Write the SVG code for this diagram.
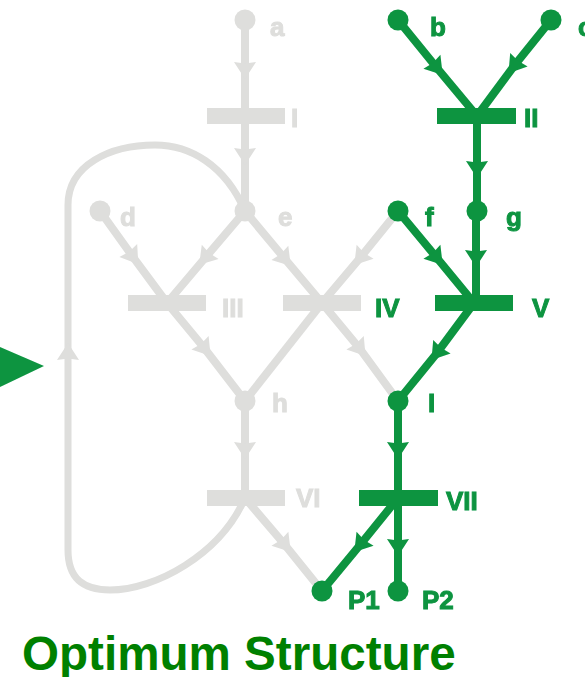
<svg xmlns="http://www.w3.org/2000/svg" width="585" height="677" viewBox="0 0 585 677">
<style>
.g{fill:none;stroke:#dededc;stroke-width:8}
.v{fill:none;stroke:#0a9440;stroke-width:8}
.gf{fill:#dededc}
.vf{fill:#0a9440}
text{font-family:"Liberation Sans",Arial,sans-serif;font-weight:700;font-size:26px}
.tg{fill:#dededc;stroke:#dededc;stroke-width:1}
.tv{fill:#0a9440;stroke:#0a9440;stroke-width:1}
</style>
<defs>
<filter id="soft" x="0" y="0" width="100%" height="100%" filterUnits="userSpaceOnUse"><feGaussianBlur stdDeviation="0.6"/></filter>
<marker id="ag" markerUnits="userSpaceOnUse" markerWidth="24" markerHeight="24" refX="12" refY="12" orient="auto" viewBox="0 0 24 24"><path d="M21 12L4 1L5.5 12L4 23Z" fill="#dededc"/></marker>
<marker id="av" markerUnits="userSpaceOnUse" markerWidth="24" markerHeight="24" refX="12" refY="12" orient="auto" viewBox="0 0 24 24"><path d="M21 12L4 1L5.5 12L4 23Z" fill="#0a9440"/></marker>
</defs>
<rect width="585" height="677" fill="#fff"/>
<g filter="url(#soft)">
<g id="connectors">
<g marker-mid="url(#ag)">
<polyline class="g" points="245,20 245,70 245,116"/>
<polyline class="g" points="245,116 245,156 245,211"/>
<polyline class="g" points="100,211 133,257 167,303"/>
<polyline class="g" points="245,211 205,258 167,303"/>
<polyline class="g" points="245,211 285,259 322,303"/>
<polyline class="g" points="398,211 360,258 322,303"/>
<polyline class="g" points="167,303 205,349 245,401"/>
<polyline class="g" points="322,303 360,349 398,401"/>
<polyline class="g" points="245,401 245,450 245,498"/>
<polyline class="g" points="245,498 285,545 322,591"/>
</g>
<polyline class="g" points="322,303 245,401"/>
<path class="g" style="stroke-width:7" d="M245,211C225,165 190,145 155,145C110,145 68,165 68,205V350"/>
<path class="g" style="stroke-width:7" d="M245,498C220,555 155,590 110,590C85,590 68,580 68,550V352" marker-end="url(#ag)"/>
<g marker-mid="url(#av)">
<polyline class="v" points="398,20 437,68 477,116"/>
<polyline class="v" points="551,20 514,66 477,116"/>
<polyline class="v" points="477,116 477,169 477,211"/>
<polyline class="v" points="476,211 476,258 476,303"/>
<polyline class="v" points="398,211 437,258 474,303"/>
<polyline class="v" points="474,303 437,353 398,401"/>
<polyline class="v" points="398,401 398,450 398,498"/>
<polyline class="v" points="398,498 360,545 322,591"/>
<polyline class="v" points="398,498 398,547 398,591"/>
</g>
</g>
<g id="node-a"><circle class="gf" cx="245" cy="20" r="10.5"/><text class="tg" x="270" y="36">a</text></g>
<g id="node-I"><rect class="gf" x="207" y="108" width="78" height="16"/><text class="tg" x="291" y="127">I</text></g>
<g id="node-d"><circle class="gf" cx="100" cy="211" r="10.5"/><text class="tg" x="120" y="226">d</text></g>
<g id="node-e"><circle class="gf" cx="245" cy="211" r="10.5"/><text class="tg" x="278" y="226">e</text></g>
<g id="node-III"><rect class="gf" x="128" y="295" width="78" height="16"/><text class="tg" x="222" y="317">III</text></g>
<g id="node-IV"><rect class="gf" x="283" y="295" width="78" height="16"/><text class="tv" x="375" y="317">IV</text></g>
<g id="node-h"><circle class="gf" cx="245" cy="401" r="10.5"/><text class="tg" x="272" y="412">h</text></g>
<g id="node-VI"><rect class="gf" x="207" y="490" width="78" height="16"/><text class="tg" x="296" y="507">VI</text></g>
<g id="node-b"><circle class="vf" cx="398" cy="20" r="10.5"/><text class="tv" x="430" y="36">b</text></g>
<g id="node-c"><circle class="vf" cx="551" cy="20" r="10.5"/><text class="tv" x="578" y="36">c</text></g>
<g id="node-II"><rect class="vf" x="437" y="108" width="79" height="16"/><text class="tv" x="524" y="127">II</text></g>
<g id="node-f"><circle class="vf" cx="398" cy="211" r="10.5"/><text class="tv" x="425" y="226">f</text></g>
<g id="node-g"><circle class="vf" cx="477" cy="211" r="10.5"/><text class="tv" x="506" y="226">g</text></g>
<g id="node-V"><rect class="vf" x="435" y="295" width="78" height="16"/><text class="tv" x="532" y="317">V</text></g>
<g id="node-l"><circle class="vf" cx="398" cy="401" r="10.5"/><text class="tv" x="428" y="412">I</text></g>
<g id="node-VII"><rect class="vf" x="359" y="490" width="79" height="16"/><text class="tv" x="446" y="510">VII</text></g>
<g id="node-P1"><circle class="vf" cx="322" cy="591" r="10.5"/><text class="tv" x="348" y="609">P1</text></g>
<g id="node-P2"><circle class="vf" cx="398" cy="591" r="10.5"/><text class="tv" x="422" y="609">P2</text></g>
<polygon id="pointer" class="vf" points="0,347 44,366 0,387"/>
</g>
<text id="title" x="22" y="670" style="font-size:47.6px;fill:#008000">Optimum Structure</text>
</svg>
